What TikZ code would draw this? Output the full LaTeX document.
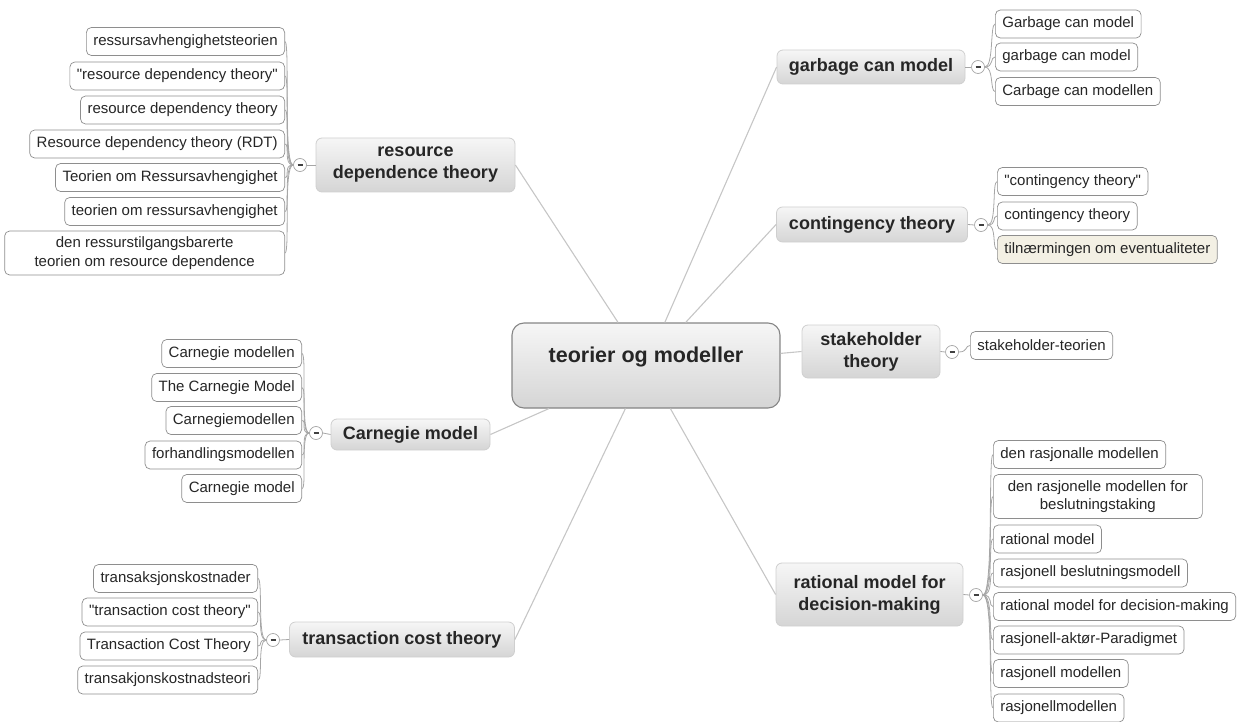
\documentclass[tikz,border=0pt]{standalone}
\usepackage{fontspec}
\setmainfont{Liberation Sans}

\definecolor{rootedge}{HTML}{858585}
\definecolor{boxtop}{HTML}{F6F6F6}
\definecolor{boxbot}{HTML}{D5D5D5}
\definecolor{branchedge}{HTML}{CFCFCF}
\definecolor{leafedge}{HTML}{8E8E8E}
\definecolor{stemgray}{HTML}{C6C6C6}
\definecolor{twiggray}{HTML}{A6A6A6}
\definecolor{paleyellow}{HTML}{F3F0E4}
\definecolor{inkgray}{HTML}{262626}

\begin{document}
\begin{tikzpicture}[x=1pt,y=-1pt,
  root/.style={draw=rootedge, line width=1.1pt, rounded corners=12pt,
    top color=boxtop, bottom color=boxbot, text=inkgray,
    font=\fontsize{21.5}{26}\selectfont\bfseries,
    minimum width=268pt, minimum height=85pt, text height=13pt, text depth=20pt},
  branch/.style={draw=branchedge, line width=0.8pt, rounded corners=6pt,
    top color=boxtop, bottom color=boxbot, align=center, text=inkgray,
    font=\fontsize{18}{22}\selectfont\bfseries,
    inner xsep=8pt, minimum height=34pt},
  leaf/.style={draw=leafedge, line width=0.7pt, rounded corners=5pt, fill=white,
    align=center, font=\fontsize{15}{18}\selectfont, text=inkgray,
    inner xsep=7pt, minimum height=28pt},
  knob/.style={circle, draw=twiggray, fill=white, line width=0.7pt,
    minimum size=13pt, inner sep=0pt, text=black!75},
  stem/.style={draw=stemgray, line width=1.1pt},
  twig/.style={draw=twiggray, line width=0.8pt}
]

\useasboundingbox (0,0) rectangle (1250,722);

% centre
\node[root] (root) at (646,365.5) {teorier og modeller};

% main branches
\node[branch, minimum width=188pt] (garbage) at (871,67) {garbage can model};
\node[branch, minimum width=191pt, minimum height=35pt] (contingency) at (872,224.5) {contingency theory};
\node[branch, minimum width=138pt, minimum height=53pt] (stakeholder) at (871,351.5) {stakeholder\\theory};
\node[branch, minimum width=187pt, minimum height=63pt] (rational) at (869.5,594.5) {rational model for\\decision-making};
\node[branch, minimum width=199pt, minimum height=54pt] (resource) at (415.5,165) {resource\\dependence theory};
\node[branch, minimum width=159pt, minimum height=31pt] (carnegie) at (410.5,434.5) {Carnegie model};
\node[branch, minimum width=225pt, minimum height=35pt] (transaction) at (402,639.5) {transaction cost theory};

\foreach \b in {garbage,contingency,stakeholder,rational}
  \draw[stem] (root) -- (\b.west);
\foreach \b in {resource,carnegie,transaction}
  \draw[stem] (root) -- (\b.east);

% collapse knobs
\node[knob] (garbageK) at (978,67) {\rule{5pt}{1.3pt}};
\node[knob] (contingencyK) at (981,225) {\rule{5pt}{1.3pt}};
\node[knob] (stakeholderK) at (952,352) {\rule{5pt}{1.3pt}};
\node[knob] (rationalK) at (976,595) {\rule{5pt}{1.3pt}};
\node[knob] (resourceK) at (300,165) {\rule{5pt}{1.3pt}};
\node[knob] (carnegieK) at (316,433) {\rule{5pt}{1.3pt}};
\node[knob] (transactionK) at (273,640) {\rule{5pt}{1.3pt}};

\foreach \b in {garbage,contingency,stakeholder,rational}
  \draw[twig] (\b.east) -- (\b K.west);
\foreach \b in {resource,carnegie,transaction}
  \draw[twig] (\b.west) -- (\b K.east);

% right side leaves
\foreach \y/\txt [count=\i] in {24/Garbage can model, 57/garbage can model, 91.5/Carbage can modellen}
{
\node[leaf, anchor=west] (g\i) at (995,\y) {\txt};
\draw[twig] (garbageK.east) .. controls +(9,0) and +(-5,0) .. (g\i.west);
}

\foreach \y/\txt [count=\i] in {181.5/\textquotedbl contingency theory\textquotedbl, 216/contingency theory}
{
\node[leaf, anchor=west] (c\i) at (997,\y) {\txt};
\draw[twig] (contingencyK.east) .. controls +(9,0) and +(-5,0) .. (c\i.west);
}
\node[leaf, anchor=west, fill=paleyellow] (c3) at (997,249.5) {tilnærmingen om eventualiteter};
\draw[twig] (contingencyK.east) .. controls +(9,0) and +(-5,0) .. (c3.west);

\node[leaf, anchor=west] (s1) at (970,345.5) {stakeholder-teorien};
\draw[twig] (stakeholderK.east) .. controls +(9,0) and +(-5,0) .. (s1.west);

\foreach \y/\txt [count=\i] in {454.5/den rasjonalle modellen,
  539/rational model, 573/rasjonell beslutningsmodell,
  606.5/rational model for decision-making, 640/rasjonell-aktør-Paradigmet,
  673.5/rasjonell modellen, 708/rasjonellmodellen}
{
\node[leaf, anchor=west] (r\i) at (993,\y) {\txt};
\draw[twig] (rationalK.east) .. controls +(11,0) and +(-5,0) .. (r\i.west);
}
\node[leaf, anchor=west, minimum width=209pt, minimum height=44pt]
  (r0) at (993,496.5) {den rasjonelle modellen for\\beslutningstaking};
\draw[twig] (rationalK.east) .. controls +(11,0) and +(-5,0) .. (r0.west);

% left side leaves
\foreach \y/\txt [count=\i] in {41.5/ressursavhengighetsteorien,
  76/\textquotedbl resource dependency theory\textquotedbl,
  110/resource dependency theory, 144/Resource dependency theory (RDT),
  177.5/Teorien om Ressursavhengighet, 211.5/teorien om ressursavhengighet}
{
\node[leaf, anchor=east] (d\i) at (285,\y) {\txt};
\draw[twig] (resourceK.west) .. controls +(-10,0) and +(5,0) .. (d\i.east);
}
\node[leaf, anchor=east, minimum width=280pt, minimum height=44pt, font=\fontsize{15}{19}\selectfont]
  (d7) at (285,253) {den ressurstilgangsbarerte\\teorien om resource dependence};
\draw[twig] (resourceK.west) .. controls +(-10,0) and +(5,0) .. (d7.east);

\foreach \y/\txt [count=\i] in {353.5/Carnegie modellen, 387.5/The Carnegie Model,
  420.5/Carnegiemodellen, 455/forhandlingsmodellen, 488.5/Carnegie model}
{
\node[leaf, anchor=east] (k\i) at (302,\y) {\txt};
\draw[twig] (carnegieK.west) .. controls +(-9,0) and +(5,0) .. (k\i.east);
}

\foreach \y/\txt [count=\i] in {578.5/transaksjonskostnader,
  612/\textquotedbl transaction cost theory\textquotedbl,
  646/Transaction Cost Theory, 680/transakjonskostnadsteori}
{
\node[leaf, anchor=east] (t\i) at (258,\y) {\txt};
\draw[twig] (transactionK.west) .. controls +(-9,0) and +(5,0) .. (t\i.east);
}

\end{tikzpicture}
\end{document}
